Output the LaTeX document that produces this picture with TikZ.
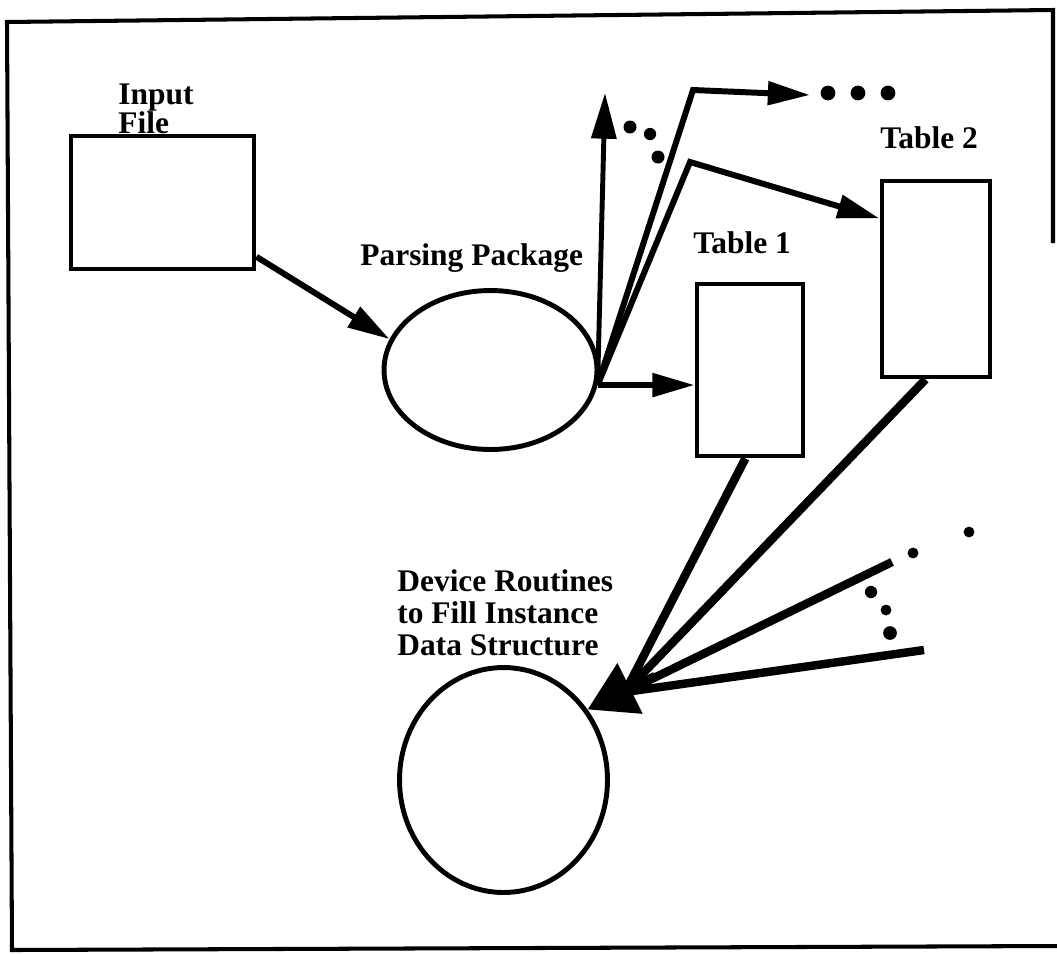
\documentclass[tikz,border=0pt]{standalone}
\usepackage{fontspec}
\setmainfont{Liberation Serif}
\usetikzlibrary{arrows.meta, positioning, shapes.geometric}
\tikzset{box/.style={rectangle,draw,line width=2.8pt,inner sep=0pt},bubble/.style={ellipse,draw,line width=2.8pt,inner sep=0pt},line/.style={line width=3.4pt,-{Triangle[length=24pt,width=13pt]}},heavy/.style={line width=4.8pt},txt/.style={font=\bfseries\fontsize{17.9pt}{18.2pt}\selectfont,align=left,inner sep=0pt,anchor=base west}}

\begin{document}
\begin{tikzpicture}[x=0.02cm,y=-0.02cm]
\useasboundingbox (0,0) rectangle (1057,954);
\draw[line width=2.3pt] (1053,243) -- (1053,10) -- (7,22) -- (12,950) -- (1057,946);
\node[box, minimum width=3.66cm, minimum height=2.66cm] (input) at (162.5,202.5) {};
\node[bubble, minimum width=4.26cm, minimum height=3.18cm] (parse) at (490.5,370) {};
\node[box, minimum width=2.12cm, minimum height=3.44cm] (t1) at (750,370) {};
\node[box, minimum width=2.16cm, minimum height=3.92cm] (t2) at (936,279) {};
\node[bubble, minimum width=4.16cm, minimum height=4.5cm] (dev) at (503.5,780) {};
\node[txt] (inputlbl) at (118,133) {Input\\[-2pt]File};
\node[txt] (parselbl) at (360,265) {Parsing Package};
\node[txt] (t1lbl) at (693,253) {Table 1};
\node[txt] (t2lbl) at (880,148) {Table 2};
\node[txt] (devlbl) at (397,655) {Device Routines\\to Fill Instance\\Data Structure};
\coordinate (pp) at (parse.-8);
\coordinate (up) at (605,93);
\coordinate (c1) at (693,90);
\coordinate (e1) at (810,95);
\coordinate (c2) at (690,162);
\coordinate (hub) at (625,692);
\coordinate (hubb) at (655,676);
\coordinate (r1) at (892,562);
\coordinate (r2) at (924,650);
\draw[line] (input.-30) -- (parse.163);
\draw[line] (pp) -- (pp -| t1.west);
\draw[line, line width=2.8pt, -{Triangle[length=26pt,width=14pt]}] (pp) -- (up);
\draw[line] (pp) -- (c1) -- (e1);
\draw[line] (pp) -- (c2) -- (t2.133);
\draw[heavy] (t1.-93) -- (hub);
\draw[heavy] (t2.-96) -- (hub);
\draw[heavy] (r1) -- (hub);
\draw[heavy] (r2) -- (hub);
\draw[heavy, -{Triangle[length=27pt,width=31pt]}] (hubb) -- (dev.40);
% dots
\fill (630,127) circle[radius=3.7pt] (650,134) circle[radius=3.5pt] (658,157) circle[radius=3.7pt];
\fill (828,93) circle[radius=4.2pt] (858,93) circle[radius=4.2pt] (888,93) circle[radius=4.2pt];
\fill (969,532) circle[radius=3.1pt] (913,553) circle[radius=3.1pt] (871,592) circle[radius=3.5pt] (886,610) circle[radius=3.1pt] (890,633) circle[radius=3.9pt];
\end{tikzpicture}
\end{document}
